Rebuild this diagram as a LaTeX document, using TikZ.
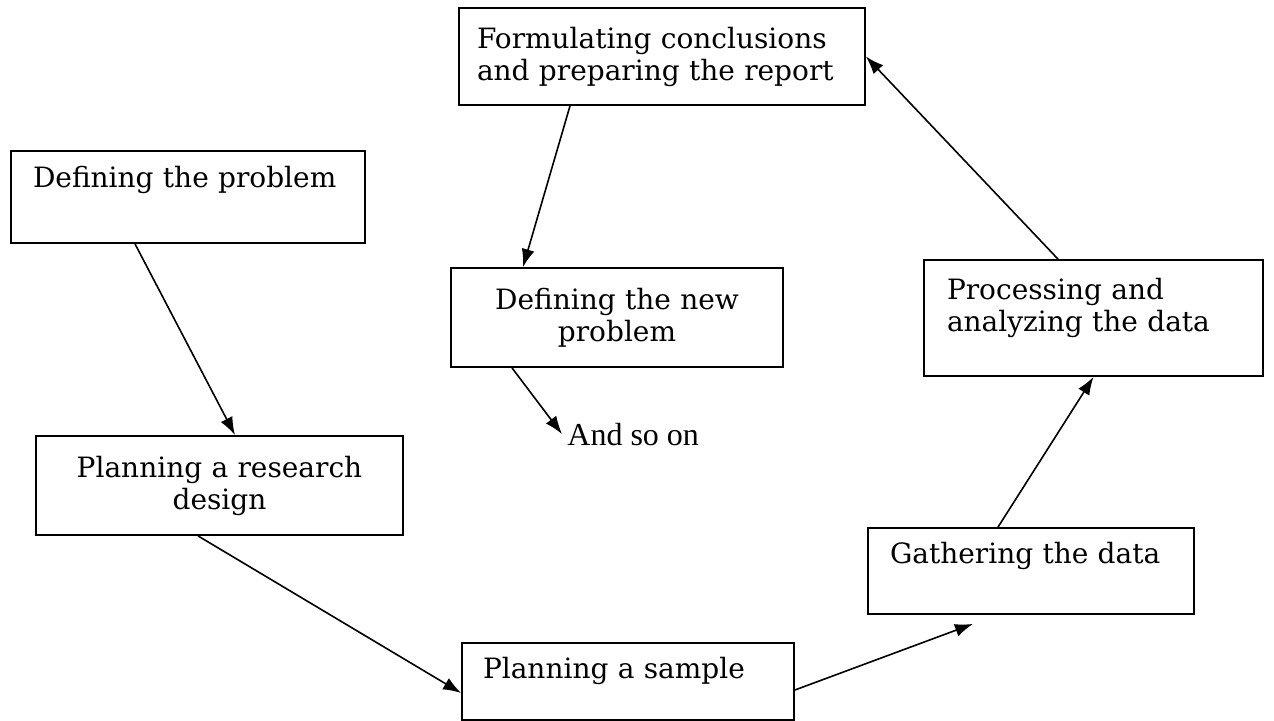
\documentclass[tikz,border=0pt]{standalone}
\usepackage{fontspec}
\usetikzlibrary{arrows.meta}
\newfontfamily\stagefont{DejaVu Serif}
\newfontfamily\notefont{Liberation Serif}

\begin{document}
\begin{tikzpicture}[x=0.5pt,y=-0.5pt,
    stage/.style={draw,line width=0.9pt,inner ysep=3pt,font=\stagefont\fontsize{14}{16}\selectfont},
    flow/.style={line width=0.8pt,-{Latex[length=9pt,width=6.5pt]}}]
\useasboundingbox (0,0) rectangle (1274,721);
\node[stage,align=left,text width=155pt,inner xsep=11pt,minimum height=46pt,text height=10.5pt,text depth=19.5pt] (prob) at (188,197) {Defining the problem};
\node[stage,align=center,text width=161.5pt,inner xsep=11pt,minimum height=49.5pt] (research) at (219.5,485.5) {Planning a research\\design};
\node[stage,align=left,text width=145pt,inner xsep=10.5pt,minimum height=38.5pt,text height=10.5pt,text depth=14pt] (sample) at (628,681.5) {Planning a sample};
\node[stage,align=left,text width=141pt,inner xsep=11pt,minimum height=43pt,text height=10.5pt,text depth=18.5pt] (gather) at (1031,571) {Gathering the data};
\node[stage,align=left,text width=146.5pt,inner xsep=11.5pt,minimum height=58pt,text height=10.5pt,text depth=28.5pt] (process) at (1093.5,318) {Processing and\\analyzing the data};
\node[stage,align=left,text width=185pt,inner xsep=9pt,minimum height=48.5pt] (report) at (662,56.5) {Formulating conclusions\\and preparing the report};
\node[stage,align=center,text width=146pt,inner xsep=10pt,minimum height=49.5pt] (newprob) at (617,317.5) {Defining the new\\problem};
\node[anchor=base west,inner sep=2.5pt,font=\notefont\fontsize{16}{19}\selectfont] (more) at (562,445) {And so on};

\draw[flow] ([xshift=-26.5pt]prob.south) -- ([xshift=7.75pt]research.north);
\draw[flow] ([xshift=-10.75pt]research.south) -- ([yshift=-5.75pt]sample.west);
\draw[flow] ([yshift=-4.25pt]sample.east) -- ([xshift=-29pt,yshift=-4.5pt]gather.south);
\draw[flow] ([xshift=-16.5pt]gather.north) -- (process.south);
\draw[flow] ([xshift=-17.75pt]process.north) -- (report.east);
\draw[flow] ([xshift=-46pt]report.south) -- ([xshift=-47pt]newprob.north);
\draw[flow] ([xshift=-52.5pt]newprob.south) -- (more.west);
\end{tikzpicture}
\end{document}
